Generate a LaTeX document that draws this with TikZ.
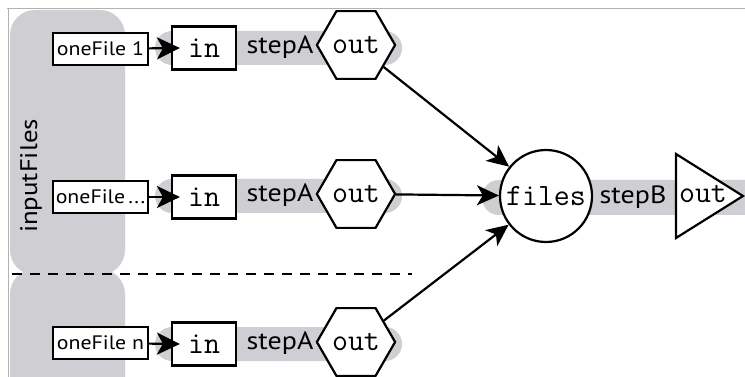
\documentclass[tikz,border=0pt]{standalone}
\usepackage{fontspec}
\setmainfont{PT Sans}[FakeStretch=1.12]
\usetikzlibrary{shapes.geometric,arrows.meta}
\definecolor{bandgray}{RGB}{207,207,211}
\definecolor{framegray}{RGB}{178,178,178}

\begin{document}
\begin{tikzpicture}[x=1pt,y=-1pt,
  filebox/.style={draw,line width=2.2pt,fill=white,minimum width=95pt,minimum height=32pt,
    inner sep=0pt,font=\fontsize{19.5}{19.5}\selectfont},
  inbox/.style={draw,line width=2.2pt,fill=white,minimum width=64pt,minimum height=43pt,
    inner sep=0pt,font=\ttfamily\fontsize{31}{31}\selectfont},
  hexnode/.style={draw,line width=2.2pt,fill=white,regular polygon,regular polygon sides=6,
    minimum size=77pt,inner sep=0pt,font=\ttfamily\fontsize{31}{31}\selectfont},
  monolabel/.style={inner sep=0pt,font=\ttfamily\fontsize{31}{31}\selectfont},
  steplabel/.style={inner sep=0pt,font=\fontsize{25}{25}\selectfont},
  bandfill/.style={fill=bandgray,rounded corners=17pt},
  feedarrow/.style={-{Stealth[length=23pt,width=22pt,inset=6pt]},line width=2.2pt},
  mergearrow/.style={-{Stealth[length=22pt,width=20pt,inset=6pt]},line width=2.2pt}
]
\useasboundingbox (0,0) rectangle (745,377);
\clip (0,0) rectangle (745,377);
\fill[white] (0,0) rectangle (745,377);

% frame edges
\draw[framegray,line width=1.5pt] (7,8.5) -- (745,8.5);
\draw[framegray,line width=1.2pt] (8.5,8.5) -- (8.5,377);

% inputFiles scatter region, split in two pieces
\fill[bandgray,rounded corners=25pt] (10,10) rectangle (125,275);
\fill[bandgray,rounded corners=25pt] (10,269) rectangle (125,420);
\node[rotate=90,inner sep=0pt,font=\fontsize{24}{24}\selectfont] (inp) at (31,176) {inputFiles};

% stepA bands
\fill[bandfill] (155,31) rectangle (402,65);
\fill[bandfill] (155,179) rectangle (402,213);
\fill[bandfill] (155,327) rectangle (402,361);
% stepB band
\fill[bandfill] (482,180) rectangle (790,215);

% dashed separator
\draw[line width=2pt,dash pattern=on 10pt off 8pt] (12,274) -- (412,274);

% row 1
\node[filebox] (f1) at (100.5,49) {oneFile 1};
\node[inbox] (in1) at (204,48) {in};
\node[steplabel] (sA1) at (280,47) {stepA};
\node[hexnode] (o1) at (356,45) {out};
\draw[feedarrow] (f1) -- ([xshift=9pt]in1.west);

% row 2
\node[filebox] (f2) at (100.5,197) {oneFile\,...};
\node[inbox] (in2) at (204,197) {in};
\node[steplabel] (sA2) at (280,195) {stepA};
\node[hexnode] (o2) at (356,194) {out};
\draw[feedarrow] (f2) -- ([xshift=9pt]in2.west);

% row 3
\node[filebox] (f3) at (100.5,343) {oneFile n};
\node[inbox] (in3) at (204,344) {in};
\node[steplabel] (sA3) at (280,343) {stepA};
\node[hexnode] (o3) at (356,342) {out};
\draw[feedarrow] (f3) -- ([xshift=9pt]in3.west);

% gather step
\node[draw,circle,line width=2.2pt,fill=white,minimum size=92pt,inner sep=0pt,
  font=\ttfamily\fontsize{31}{31}\selectfont] (files) at (546,196) {files};
\node[steplabel] (sB) at (633,197) {stepB};
\draw[line width=2.2pt,fill=white] (676,154) -- (743,196) -- (676,238) -- cycle;
\node[monolabel] (o4) at (703,194) {out};

\draw[mergearrow] (o1) -- (files);
\draw[mergearrow] (o2) -- (files);
\draw[mergearrow] (o3) -- (files);
\end{tikzpicture}
\end{document}
